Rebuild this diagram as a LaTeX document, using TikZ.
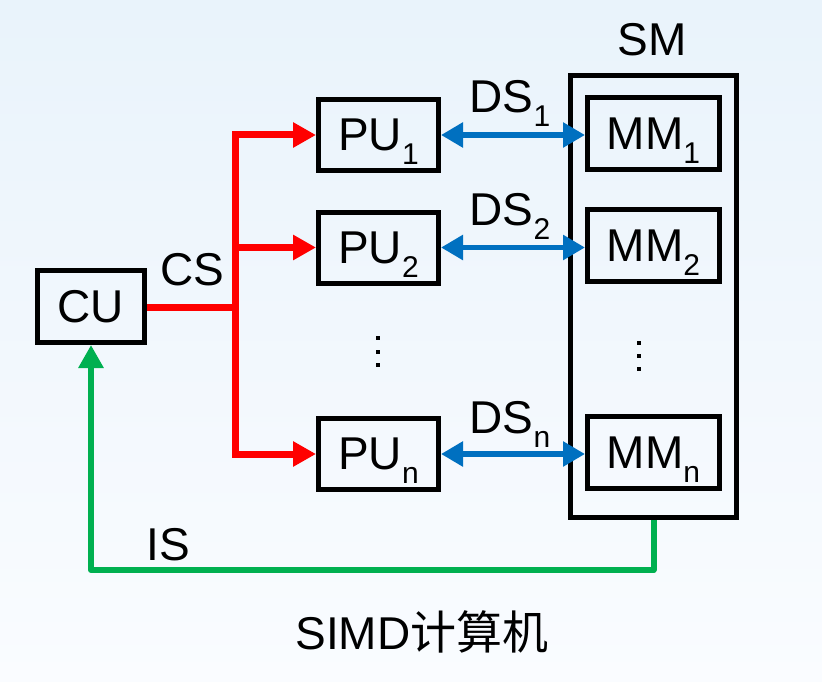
\documentclass[tikz,border=0pt]{standalone}
\usepackage{fontspec}
\setmainfont{Liberation Sans}
\newfontfamily\cjk{Noto Sans CJK SC}
\usepackage{xcolor}
\usepackage{tikz}
\usetikzlibrary{arrows.meta}

\definecolor{csred}{RGB}{255,0,0}
\definecolor{dsblue}{RGB}{0,112,192}
\definecolor{isgreen}{RGB}{0,176,80}
\newcommand{\lowidx}[1]{\raisebox{-14pt}[0pt][0pt]{\fontsize{30}{31}\selectfont #1}}

\tikzset{
    unit/.style={draw, line width=5pt, rectangle, inner sep=0pt, font=\fontsize{46}{52}\selectfont},
    lbl/.style={font=\fontsize{46}{52}\selectfont, inner sep=0pt},
    ctrlline/.style={csred, line width=7pt},
    dataline/.style={dsblue, line width=5.5pt, {Triangle[length=22pt,width=24pt]}-{Triangle[length=22pt,width=24pt]}},
    instline/.style={isgreen, line width=6pt, line join=round, -{Triangle[length=23pt,width=24pt]}}
}

\begin{document}
\begin{tikzpicture}[x=1pt,y=-1pt]
        \shade[top color={rgb,255:red,233;green,243;blue,251}, bottom color={rgb,255:red,250;green,252;blue,255}] (0,0) rectangle (822,682);
        \useasboundingbox (0,0) rectangle (822,682);

        \node[unit, minimum width=107pt, minimum height=72pt] (cu) at (91,306.5) {CU};

        \node[unit, minimum width=120pt, minimum height=71pt] (pu1) at (378.5,135) {PU\lowidx{1}};
        \node[unit, minimum width=120pt, minimum height=71pt] (pu2) at (378.5,247.5) {PU\lowidx{2}};
        \node[unit, minimum width=120pt, minimum height=71pt] (pun) at (378.5,454) {PU\lowidx{n}};

        \node[unit, minimum width=166pt, minimum height=442pt] (sm) at (653.5,296.5) {};
        \node[lbl] (smlabel) at (652,40) {SM};

        \node[unit, minimum width=132pt, minimum height=72pt] (mm1) at (653.5,133.5) {MM\lowidx{1}};
        \node[unit, minimum width=132pt, minimum height=72pt] (mm2) at (653.5,245.5) {MM\lowidx{2}};
        \node[unit, minimum width=132pt, minimum height=72pt] (mmn) at (653.5,452.5) {MM\lowidx{n}};

        \foreach \y in {338,352,365} \fill (376,\y-2) rectangle ++(4,4);
        \foreach \y in {343,356,369} \fill (637,\y-2) rectangle ++(4,4);

        \coordinate (split) at (235,307);
        \draw[ctrlline] (cu.east |- split) -- (split);
        \draw[ctrlline, -{Triangle[length=23pt,width=24pt]}] (split) |- (pu1);
        \draw[ctrlline, -{Triangle[length=23pt,width=24pt]}] (split) |- (pu2);
        \draw[ctrlline, -{Triangle[length=23pt,width=24pt]}] (split) |- (pun);
        \node[lbl] (cs) at (192,270) {CS};

        \draw[dataline] (pu1) -- (mm1.west |- pu1);
        \draw[dataline] (pu2) -- (mm2.west |- pu2);
        \draw[dataline] (pun) -- (mmn.west |- pun);
        \node[lbl] (ds1) at (510,97) {DS\lowidx{1}};
        \node[lbl] (ds2) at (510,210) {DS\lowidx{2}};
        \node[lbl] (dsn) at (510,418) {DS\lowidx{n}};

        \draw[instline] (sm.south) -- ++(0,50) -| (cu.south);
        \node[lbl] (is) at (168,545) {IS};

        \node[lbl] (caption) at (422,632) {SIMD{\cjk 计算机}};
    \end{tikzpicture}
\end{document}
